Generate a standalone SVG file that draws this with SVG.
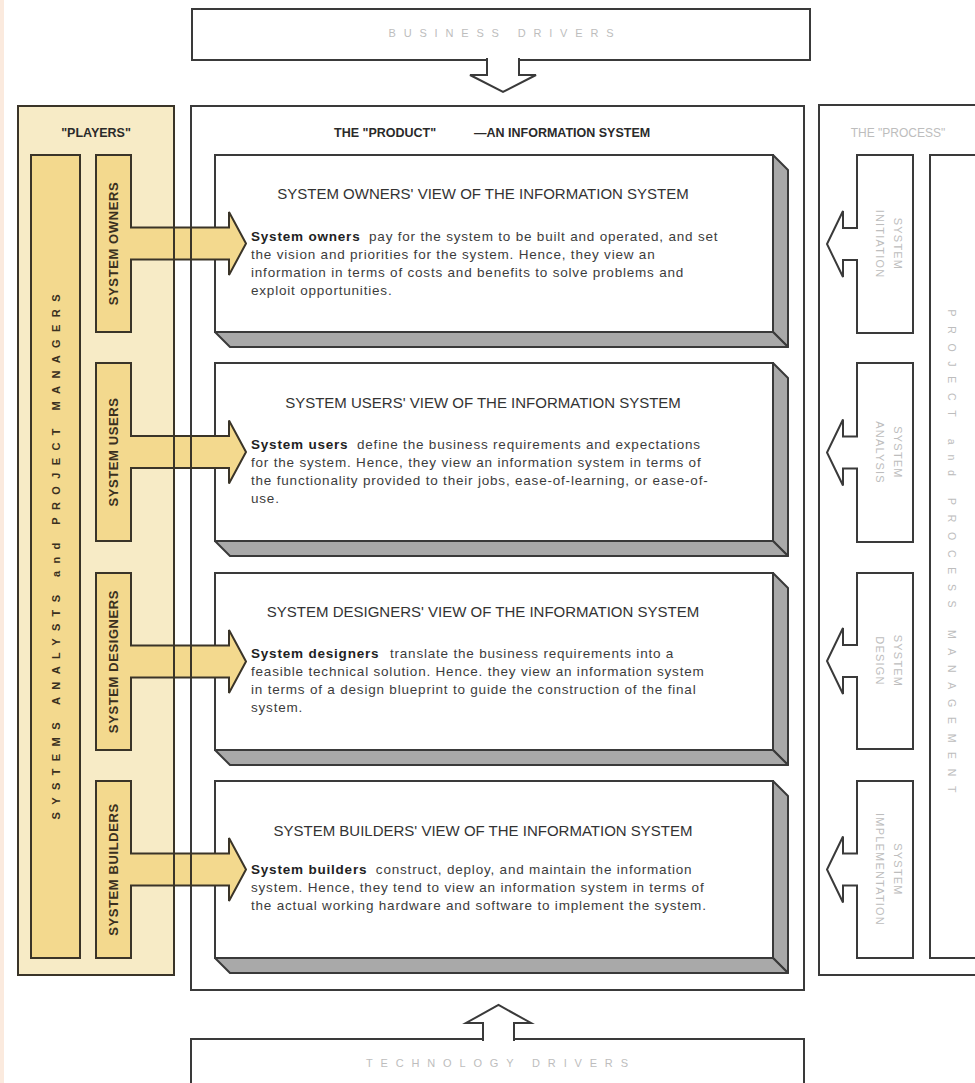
<svg xmlns="http://www.w3.org/2000/svg" width="975" height="1083" viewBox="0 0 975 1083">
<style>
.ol{fill:none;stroke:#3a3a3a;stroke-width:2}
.wb{fill:#fff;stroke:#3a3a3a;stroke-width:2}
.sh{fill:#a9a9a9;stroke:#3a3a3a;stroke-width:2;stroke-linejoin:round}
.tan{fill:#f3d98e;stroke:#3a3428;stroke-width:2}
.arw{fill:#f3d98e;stroke:#3a3428;stroke-width:2;stroke-linejoin:miter}
.warw{fill:#fff;stroke:#3a3a3a;stroke-width:2;stroke-linejoin:miter}
text{font-family:"Liberation Sans",Arial,Helvetica,sans-serif}
.ttl{font-size:15px;fill:#333;text-anchor:middle}
.bd{font-size:13.5px;fill:#3c3c3c;letter-spacing:0.8px}
.b{font-weight:bold;fill:#222}
.gr{fill:#bdbdbd;text-anchor:middle}
.role{font-weight:bold;font-size:13px;fill:#3a3020;text-anchor:middle;letter-spacing:0.6px}
.hd{font-weight:bold;font-size:12.5px;fill:#2a2a2a}
</style>
<rect x="0" y="0" width="975" height="1083" fill="#fff"/>
<rect x="0" y="0" width="4" height="1083" fill="#fbeade"/>

<g id="business-drivers">
  <rect class="wb" x="192" y="9" width="618" height="51"/>
  <text class="gr" x="501" y="37" font-size="11" textLength="225" lengthAdjust="spacing">BUSINESS DRIVERS</text>
</g>

<g id="technology-drivers">
  <rect class="wb" x="191" y="1039" width="613" height="60"/>
  <text class="gr" x="497" y="1067" font-size="11" textLength="262" lengthAdjust="spacing">TECHNOLOGY DRIVERS</text>
</g>

<g id="product">
  <rect class="wb" x="191" y="106" width="613" height="884"/>
  <text class="hd" x="334" y="137">THE "PRODUCT"</text>
  <text class="hd" x="474" y="137">—AN INFORMATION SYSTEM</text>
</g>

<g id="owners-view">
  <rect class="wb" x="215" y="155" width="558" height="177"/>
  <polygon class="sh" points="773,155 788,170 788,347 773,332"/>
  <polygon class="sh" points="215,332 773,332 788,347 230,347"/>
  <text class="ttl" x="483" y="199">SYSTEM OWNERS' VIEW OF THE INFORMATION SYSTEM</text>
  <text class="bd" x="251" y="241"><tspan class="b">System owners</tspan> <tspan dx="4">pay for the system to be built and operated, and set</tspan></text>
  <text class="bd" x="251" y="259">the vision and priorities for the system. Hence, they view an</text>
  <text class="bd" x="251" y="277">information in terms of costs and benefits to solve problems and</text>
  <text class="bd" x="251" y="295">exploit opportunities.</text>
</g>

<g id="users-view">
  <rect class="wb" x="215" y="363" width="558" height="178"/>
  <polygon class="sh" points="773,363 788,378 788,556 773,541"/>
  <polygon class="sh" points="215,541 773,541 788,556 230,556"/>
  <text class="ttl" x="483" y="408">SYSTEM USERS' VIEW OF THE INFORMATION SYSTEM</text>
  <text class="bd" x="251" y="449"><tspan class="b">System users</tspan> <tspan dx="4">define the business requirements and expectations</tspan></text>
  <text class="bd" x="251" y="467">for the system. Hence, they view an information system in terms of</text>
  <text class="bd" x="251" y="485">the functionality provided to their jobs, ease-of-learning, or ease-of-</text>
  <text class="bd" x="251" y="503">use.</text>
</g>

<g id="designers-view">
  <rect class="wb" x="215" y="573" width="558" height="177"/>
  <polygon class="sh" points="773,573 788,588 788,765 773,750"/>
  <polygon class="sh" points="215,750 773,750 788,765 230,765"/>
  <text class="ttl" x="483" y="617">SYSTEM DESIGNERS' VIEW OF THE INFORMATION SYSTEM</text>
  <text class="bd" x="251" y="658"><tspan class="b">System designers</tspan> <tspan dx="6">translate the business requirements into a</tspan></text>
  <text class="bd" x="251" y="676">feasible technical solution. Hence. they view an information system</text>
  <text class="bd" x="251" y="694">in terms of a design blueprint to guide the construction of the final</text>
  <text class="bd" x="251" y="712">system.</text>
</g>

<g id="builders-view">
  <rect class="wb" x="215" y="781" width="558" height="177"/>
  <polygon class="sh" points="773,781 788,796 788,973 773,958"/>
  <polygon class="sh" points="215,958 773,958 788,973 230,973"/>
  <text class="ttl" x="483" y="836">SYSTEM BUILDERS' VIEW OF THE INFORMATION SYSTEM</text>
  <text class="bd" x="251" y="874"><tspan class="b">System builders</tspan> <tspan dx="4">construct, deploy, and maintain the information</tspan></text>
  <text class="bd" x="251" y="892">system. Hence, they tend to view an information system in terms of</text>
  <text class="bd" x="251" y="910">the actual working hardware and software to implement the system.</text>
</g>

<g id="players">
  <rect x="18" y="106" width="156" height="869" fill="#f7ebc6" stroke="#3a3428" stroke-width="2"/>
  <text class="hd" x="96" y="137" text-anchor="middle" fill="#3a3020">"PLAYERS"</text>
  <rect class="tan" x="31" y="155" width="49" height="803"/>
  <text transform="translate(59.5,557) rotate(-90)" font-size="11" font-weight="bold" fill="#3a3020" text-anchor="middle" textLength="525" lengthAdjust="spacing">SYSTEMS ANALYSTS and PROJECT MANAGERS</text>
</g>
<g id="system-owners">
  <rect class="tan" x="96" y="155" width="35" height="177"/>
  <text class="role" transform="translate(118,243.5) rotate(-90)">SYSTEM OWNERS</text>
</g>
<g id="system-users">
  <rect class="tan" x="96" y="363" width="35" height="178"/>
  <text class="role" transform="translate(118,452) rotate(-90)">SYSTEM USERS</text>
</g>
<g id="system-designers">
  <rect class="tan" x="96" y="573" width="35" height="177"/>
  <text class="role" transform="translate(118,661.5) rotate(-90)">SYSTEM DESIGNERS</text>
</g>
<g id="system-builders">
  <rect class="tan" x="96" y="781" width="35" height="177"/>
  <text class="role" transform="translate(118,869.5) rotate(-90)">SYSTEM BUILDERS</text>
</g>

<g id="process">
  <rect class="wb" x="819" y="105" width="200" height="870"/>
  <text class="gr" x="898" y="137" font-size="12">THE "PROCESS"</text>
  <rect class="wb" x="930" y="155" width="100" height="803"/>
  <text class="gr" transform="translate(948,551) rotate(90)" font-size="10.5" textLength="483" lengthAdjust="spacing">PROJECT and PROCESS MANAGEMENT</text>
</g>
<g id="system-initiation">
  <rect class="wb" x="857" y="155" width="56" height="178"/>
  <text class="gr" transform="translate(894,244) rotate(90)" font-size="11" letter-spacing="1.2"><tspan x="0" y="0">SYSTEM</tspan><tspan x="0" y="18">INITIATION</tspan></text>
</g>
<g id="system-analysis">
  <rect class="wb" x="857" y="363" width="56" height="179"/>
  <text class="gr" transform="translate(894,452.5) rotate(90)" font-size="11" letter-spacing="1.2"><tspan x="0" y="0">SYSTEM</tspan><tspan x="0" y="18">ANALYSIS</tspan></text>
</g>
<g id="system-design">
  <rect class="wb" x="857" y="573" width="56" height="176"/>
  <text class="gr" transform="translate(894,661) rotate(90)" font-size="11" letter-spacing="1.2"><tspan x="0" y="0">SYSTEM</tspan><tspan x="0" y="18">DESIGN</tspan></text>
</g>
<g id="system-implementation">
  <rect class="wb" x="857" y="781" width="56" height="177"/>
  <text class="gr" transform="translate(894,869.5) rotate(90)" font-size="11" letter-spacing="1.2"><tspan x="0" y="0">SYSTEM</tspan><tspan x="0" y="18">IMPLEMENTATION</tspan></text>
</g>

<g id="connectors">
  <path class="warw" d="M487,58 V75 H470 L503,92 L536,75 H519 V58"/>
  <path class="warw" d="M483,1041 V1023 H466 L498.5,1005 L531,1023 H514 V1041"/>
  <path class="arw" d="M130,227.5 H229 V212 L246,243.5 L229,275 V259.5 H130"/>
  <path class="arw" d="M130,436 H229 V420.5 L246,452 L229,483.5 V468 H130"/>
  <path class="arw" d="M130,645.5 H229 V630 L246,661.5 L229,693 V677.5 H130"/>
  <path class="arw" d="M130,853.5 H229 V838 L246,869.5 L229,901 V885.5 H130"/>
  <path class="warw" d="M858,228 H843 V211 L827,244 L843,277 V260 H858"/>
  <path class="warw" d="M858,436.5 H843 V419.5 L827,452.5 L843,485.5 V468.5 H858"/>
  <path class="warw" d="M858,645 H843 V628 L827,661 L843,694 V677 H858"/>
  <path class="warw" d="M858,853.5 H843 V836.5 L827,869.5 L843,902.5 V885.5 H858"/>
  <g stroke="#3a3428" stroke-width="2">
    <line x1="174" y1="227.5" x2="174" y2="259.5"/><line x1="191" y1="227.5" x2="191" y2="259.5"/>
    <line x1="174" y1="436" x2="174" y2="468"/><line x1="191" y1="436" x2="191" y2="468"/>
    <line x1="174" y1="645.5" x2="174" y2="677.5"/><line x1="191" y1="645.5" x2="191" y2="677.5"/>
    <line x1="174" y1="853.5" x2="174" y2="885.5"/><line x1="191" y1="853.5" x2="191" y2="885.5"/>
  </g>
</g>
</svg>
